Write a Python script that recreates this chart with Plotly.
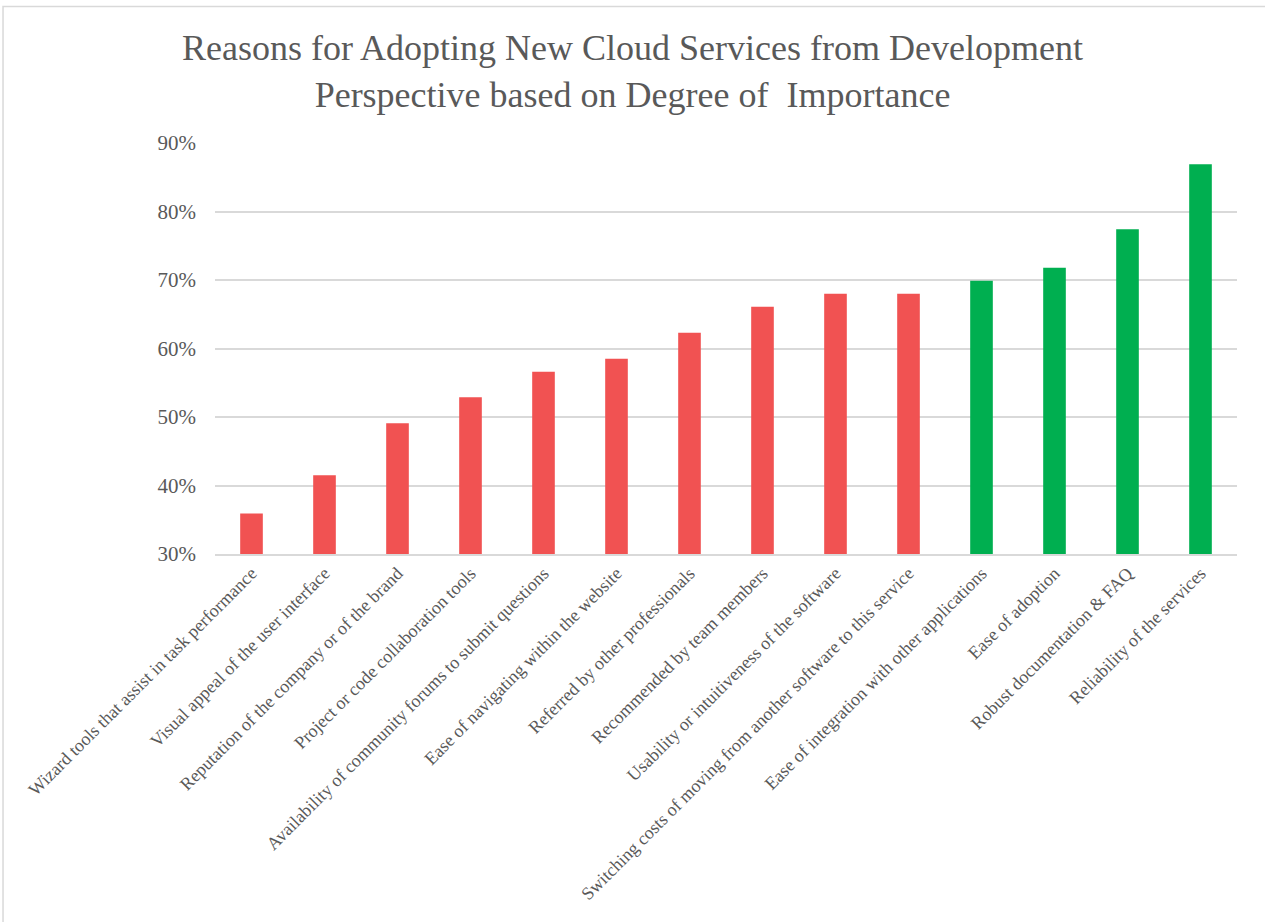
import plotly.graph_objects as go

# Survey results: share of respondents rating each reason as important
categories = [
    "Wizard tools that assist in task performance",
    "Visual appeal of the user interface",
    "Reputation of the company or of the brand",
    "Project or code collaboration tools",
    "Availability of community forums to submit questions",
    "Ease of navigating within the website",
    "Referred by other professionals",
    "Recommended by team members",
    "Usability or intuitiveness of the software",
    "Switching costs of moving from another software to this service",
    "Ease of integration with other applications",
    "Ease of adoption",
    "Robust documentation & FAQ",
    "Reliability of the services",
]
values = [35.9, 41.5, 49.1, 52.9, 56.6, 58.5, 62.3, 66.1, 68.0, 68.0, 69.9, 71.8, 77.4, 86.9]
# top-tier reasons are highlighted
top_tier = [False] * 10 + [True] * 4

y_ticks = [30, 40, 50, 60, 70, 80, 90]
y_tick_labels = ["30%", "40%", "50%", "60%", "70%", "80%", "90%"]

RED = "#F15252"
GREEN = "#00AF50"
TEXT = "#595959"
GRID = "#D9D9D9"
FONT = "Liberation Serif"

colors = [GREEN if t else RED for t in top_tier]

fig = go.Figure(
    go.Bar(
        x=categories,
        y=values,
        marker=dict(color=colors, line=dict(width=0)),
        base=0,
    )
)

fig.update_layout(
    width=1265,
    height=922,
    margin=dict(l=215, r=28, t=143, b=368),
    paper_bgcolor="white",
    plot_bgcolor="white",
    bargap=0.69,
    showlegend=False,
    font=dict(family=FONT, color=TEXT),
    title=dict(
        text="Reasons for Adopting New Cloud Services from Development<br>Perspective based on Degree of  Importance",
        x=0.5,
        xanchor="center",
        y=0.935,
        yanchor="top",
        yref="container",
        font=dict(family=FONT, size=36, color=TEXT),
    ),
    xaxis=dict(
        tickangle=-45,
        tickfont=dict(family=FONT, size=18, color=TEXT),
        showline=True,
        linecolor=GRID,
        linewidth=1.5,
        showgrid=False,
        ticks="",
    ),
    yaxis=dict(
        range=[30, 90],
        tickvals=y_ticks,
        ticktext=y_tick_labels,
        tickfont=dict(family=FONT, size=21, color=TEXT),
        showgrid=True,
        gridcolor=GRID,
        gridwidth=1.5,
        zeroline=False,
        showline=False,
        ticks="",
        ticklabelstandoff=18,
    ),
    shapes=[
        dict(
            type="rect",
            xref="paper",
            yref="paper",
            x0=-0.2074,
            x1=1.2,
            y0=-1.5,
            y1=1.332,
            line=dict(color=GRID, width=1.5),
            fillcolor="rgba(0,0,0,0)",
            layer="above",
        )
    ],
)

fig.write_html("out.html")
